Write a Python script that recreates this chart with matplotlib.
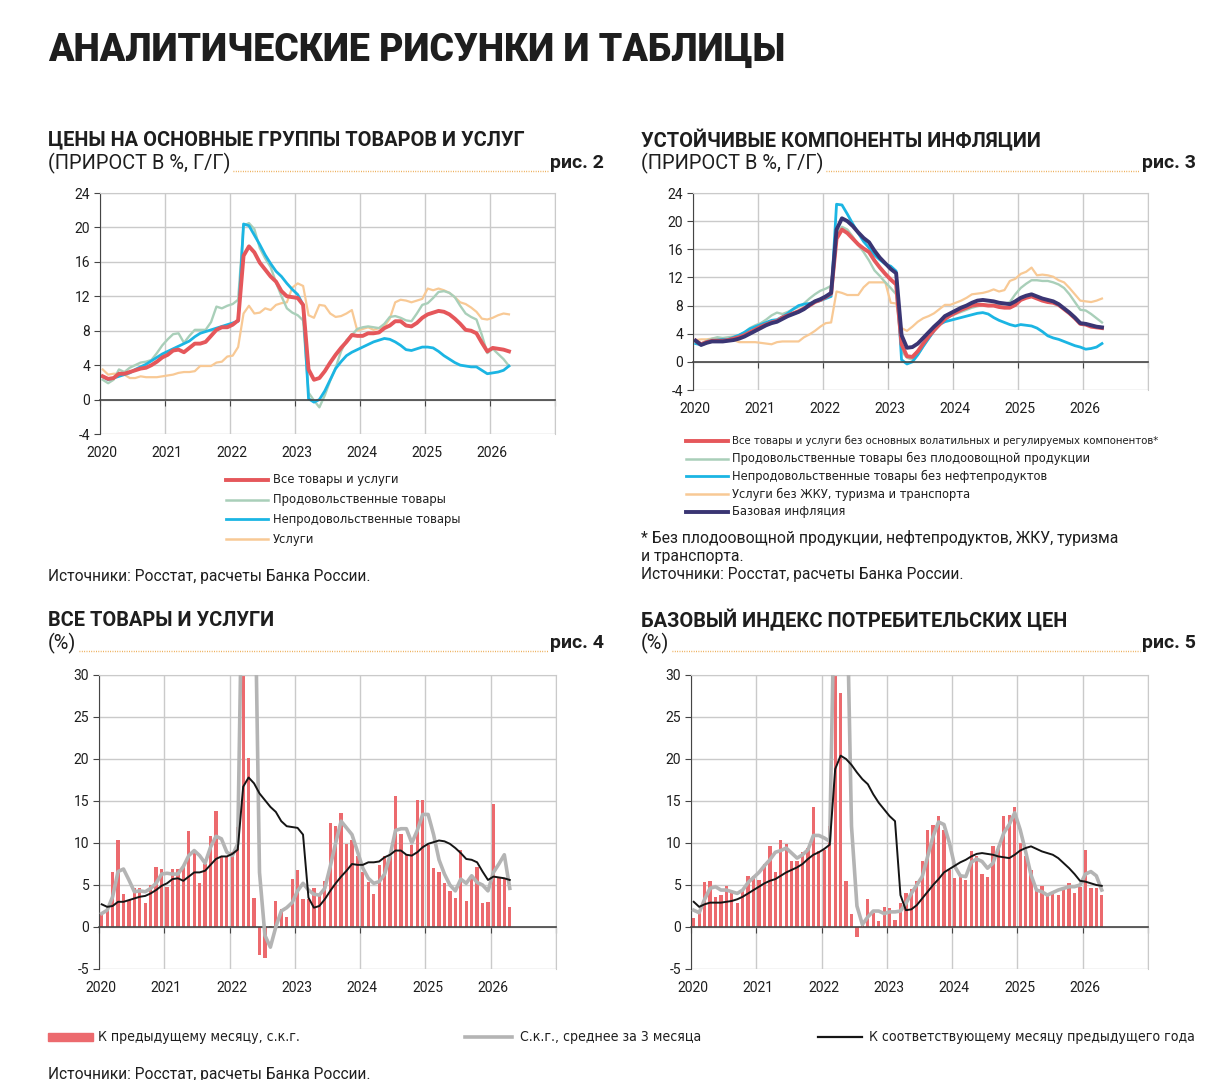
import matplotlib
matplotlib.use('Agg')
import matplotlib.pyplot as plt
from matplotlib.lines import Line2D
from matplotlib.patches import Rectangle
from matplotlib import font_manager
import numpy as np
import pandas as pd

# ---------- данные (помесячно, янв.2020 - апр.2026) ----------
dates = pd.date_range('2020-01-01', periods=76, freq='MS')
year_ticks = [2020, 2021, 2022, 2023, 2024, 2025, 2026]

# рис. 2, г/г
cpi_yoy = [2.7, 2.4, 2.5, 3.0, 3.0, 3.2, 3.4, 3.6, 3.7, 4.0, 4.4, 4.9,
           5.2, 5.7, 5.8, 5.5, 6.0, 6.5, 6.5, 6.7, 7.4, 8.1, 8.4, 8.4,
           8.7, 9.2, 16.7, 17.8, 17.1, 15.9, 15.1, 14.3, 13.7, 12.6, 12.0, 11.9,
           11.8, 11.0, 3.5, 2.3, 2.5, 3.3, 4.3, 5.2, 6.0, 6.7, 7.5, 7.4,
           7.4, 7.7, 7.7, 7.8, 8.3, 8.6, 9.1, 9.1, 8.6, 8.5, 8.9, 9.5,
           9.9, 10.1, 10.3, 10.2, 9.9, 9.4, 8.8, 8.1, 8.0, 7.7, 6.6, 5.6,
           6.0, 5.9, 5.8, 5.6]
food_yoy = [2.3, 1.9, 2.3, 3.5, 3.2, 3.7, 4.0, 4.3, 4.4, 4.6, 5.4, 6.3,
            7.0, 7.6, 7.7, 6.6, 7.4, 8.1, 8.1, 8.1, 9.0, 10.8, 10.6, 10.9,
            11.1, 11.6, 20.2, 20.5, 19.8, 17.6, 16.4, 15.4, 13.6, 12.0, 10.6, 10.1,
            9.8, 9.2, 0.8, -0.1, -0.9, 0.5, 2.2, 3.7, 5.6, 6.9, 7.5, 8.2,
            8.4, 8.5, 8.4, 8.3, 8.8, 9.6, 9.7, 9.5, 9.2, 9.1, 10.0, 11.0,
            11.2, 11.8, 12.5, 12.6, 12.4, 11.9, 10.9, 10.0, 9.6, 9.3, 7.5, 5.4,
            5.9, 5.3, 4.7, 3.9]
nonfood_yoy = [2.7, 2.3, 2.5, 2.7, 2.9, 3.1, 3.5, 3.8, 4.1, 4.5, 4.9, 5.3,
               5.6, 5.9, 6.2, 6.5, 6.8, 7.3, 7.7, 7.9, 8.1, 8.3, 8.5, 8.7,
               8.9, 9.1, 20.4, 20.2, 19.1, 18.0, 16.8, 15.8, 14.9, 14.3, 13.5, 12.8,
               12.2, 11.0, 0.1, -0.3, 0.0, 1.0, 2.3, 3.6, 4.4, 5.1, 5.5, 5.8,
               6.1, 6.4, 6.7, 6.9, 7.1, 7.0, 6.7, 6.3, 5.8, 5.7, 5.9, 6.1,
               6.1, 6.0, 5.6, 5.1, 4.7, 4.3, 4.0, 3.9, 3.8, 3.8, 3.4, 3.0,
               3.1, 3.2, 3.4, 3.9]
serv_yoy = [3.5, 2.9, 3.0, 3.0, 2.9, 2.5, 2.5, 2.7, 2.6, 2.6, 2.6, 2.7,
            2.8, 2.9, 3.1, 3.2, 3.2, 3.3, 3.9, 3.9, 3.9, 4.3, 4.4, 5.0,
            5.1, 6.1, 10.0, 10.9, 10.0, 10.1, 10.6, 10.4, 11.0, 11.2, 11.3, 13.0,
            13.5, 13.2, 9.8, 9.5, 11.0, 10.9, 10.0, 9.6, 9.7, 10.0, 10.4, 8.0,
            8.2, 8.4, 8.1, 8.3, 8.5, 9.4, 11.3, 11.6, 11.5, 11.3, 11.5, 11.7,
            12.9, 12.7, 12.9, 12.7, 12.4, 11.9, 11.3, 11.1, 10.7, 10.2, 9.4, 9.3,
            9.5, 9.8, 10.0, 9.9]

# рис. 3, г/г
sust_yoy = [3.0, 2.5, 2.8, 3.0, 3.0, 3.0, 3.1, 3.3, 3.5, 3.8, 4.2, 4.6,
            5.0, 5.3, 5.6, 5.8, 6.3, 6.6, 6.9, 7.2, 7.6, 8.0, 8.5, 8.8,
            9.2, 9.7, 17.5, 18.8, 18.3, 17.5, 16.7, 16.1, 15.6, 14.4, 13.4, 12.5,
            11.7, 11.0, 2.5, 0.8, 0.7, 1.5, 2.6, 3.6, 4.5, 5.3, 6.1, 6.6,
            7.0, 7.4, 7.7, 8.0, 8.1, 8.1, 8.0, 8.0, 7.8, 7.7, 7.7, 8.1,
            8.8, 9.1, 9.3, 9.0, 8.7, 8.5, 8.4, 8.1, 7.5, 6.9, 6.2, 5.4,
            5.3, 5.0, 4.9, 4.8]
food_ex_yoy = [3.0, 2.6, 3.0, 3.3, 3.5, 3.4, 3.5, 3.6, 3.8, 4.2, 4.8, 5.2,
               5.5, 6.0, 6.6, 7.0, 6.8, 7.1, 7.5, 7.8, 8.3, 9.0, 9.6, 10.1,
               10.4, 10.8, 18.2, 19.2, 18.8, 17.8, 16.6, 15.6, 14.4, 13.0, 12.2, 11.3,
               10.5, 9.6, 1.5, 0.6, 0.3, 1.0, 2.2, 3.4, 4.5, 5.4, 6.0, 6.5,
               6.8, 7.1, 7.4, 7.7, 7.9, 8.1, 8.1, 8.1, 8.1, 8.2, 8.5, 9.6,
               10.5, 11.1, 11.6, 11.6, 11.5, 11.5, 11.3, 11.0, 10.5, 9.6, 8.5, 7.4,
               7.3, 6.8, 6.2, 5.6]
nonfood_ex_yoy = [2.6, 2.4, 2.7, 3.0, 3.1, 3.2, 3.2, 3.5, 3.8, 4.2, 4.7, 5.0,
                  5.3, 5.6, 5.9, 6.0, 6.4, 6.9, 7.5, 8.0, 8.2, 8.3, 8.5, 8.7,
                  9.0, 9.3, 22.4, 22.3, 21.0, 19.6, 18.3, 17.1, 16.2, 15.2, 14.5, 13.9,
                  13.6, 12.9, 0.3, -0.3, 0.0, 1.0, 2.2, 3.3, 4.4, 5.3, 5.7, 5.9,
                  6.1, 6.3, 6.5, 6.7, 6.9, 7.0, 6.8, 6.3, 5.9, 5.6, 5.3, 5.1,
                  5.3, 5.2, 5.1, 4.8, 4.3, 3.7, 3.4, 3.2, 2.9, 2.6, 2.3, 2.1,
                  1.8, 1.9, 2.1, 2.6]
serv_ex_yoy = [3.1, 3.2, 3.2, 3.3, 3.4, 3.3, 3.3, 3.1, 2.8, 2.8, 2.8, 2.8,
               2.7, 2.6, 2.5, 2.8, 2.9, 2.9, 2.9, 2.9, 3.5, 3.9, 4.4, 5.0,
               5.5, 5.6, 10.0, 9.8, 9.5, 9.5, 9.5, 10.6, 11.3, 11.3, 11.3, 11.3,
               8.4, 8.3, 4.8, 4.4, 5.0, 5.7, 6.2, 6.5, 6.9, 7.5, 8.1, 8.1,
               8.4, 8.7, 9.1, 9.6, 9.7, 9.8, 10.0, 10.3, 10.0, 10.2, 11.5, 11.8,
               12.5, 12.8, 13.4, 12.3, 12.4, 12.3, 12.1, 11.6, 11.3, 10.5, 9.6, 8.7,
               8.6, 8.5, 8.7, 9.0]
core_yoy = [3.0, 2.4, 2.7, 2.9, 2.9, 2.9, 3.0, 3.1, 3.3, 3.6, 4.0, 4.4,
            4.8, 5.2, 5.5, 5.7, 6.1, 6.5, 6.8, 7.1, 7.5, 8.1, 8.6, 8.9,
            9.3, 9.8, 18.8, 20.4, 20.0, 19.3, 18.4, 17.6, 17.0, 15.8, 14.8, 14.0,
            13.2, 12.6, 3.8, 2.0, 2.1, 2.6, 3.4, 4.2, 5.0, 5.7, 6.5, 6.9,
            7.3, 7.7, 8.0, 8.4, 8.7, 8.8, 8.7, 8.6, 8.4, 8.3, 8.2, 8.6,
            9.1, 9.4, 9.6, 9.3, 9.0, 8.8, 8.6, 8.2, 7.6, 7.0, 6.3, 5.5,
            5.4, 5.2, 5.0, 4.9]

# рис. 4, м/м с.к.г. и среднее за 3 месяца
cpi_mom = [1.6, 2.0, 6.6, 10.3, 3.9, 3.2, 4.6, 4.6, 2.9, 5.0, 7.1, 6.9,
           4.8, 6.9, 6.9, 7.2, 11.4, 8.9, 5.2, 7.5, 10.8, 13.8, 8.3, 8.5,
           8.9, 11.9, 45.0, 20.1, 3.4, -3.3, -3.7, 0.1, 3.1, 2.2, 1.2, 5.7,
           6.8, 3.3, 3.3, 4.7, 3.9, 5.5, 12.4, 12.0, 13.6, 9.9, 10.3, 8.5,
           6.5, 5.4, 3.9, 7.4, 8.5, 8.5, 15.6, 11.1, 8.6, 9.8, 15.1, 15.1,
           9.8, 7.0, 6.5, 5.2, 4.3, 3.5, 9.2, 3.1, 5.8, 7.1, 2.8, 3.0,
           14.6, 5.9, 5.8, 2.4]
cpi_3m = [1.6, 2.0, 3.6, 6.6, 6.9, 5.6, 4.2, 4.3, 4.2, 4.6, 5.2, 6.3,
          6.4, 6.3, 6.3, 7.2, 8.5, 9.1, 8.5, 7.6, 9.5, 10.8, 10.5, 8.9,
          8.5, 9.9, 50.0, 55.0, 48.0, 6.5, -1.0, -2.4, 0.0, 1.9, 2.3, 2.9,
          4.3, 5.2, 4.4, 3.9, 3.8, 4.6, 7.2, 10.0, 12.6, 11.8, 11.0, 9.0,
          7.0, 5.8, 5.2, 5.4, 6.3, 8.5, 11.5, 11.7, 11.7, 10.0, 11.5, 13.4,
          13.4, 11.0, 8.0, 6.3, 5.0, 4.3, 5.7, 5.2, 6.1, 5.3, 5.0, 4.3,
          6.5, 7.5, 8.6, 4.6]

# рис. 5
core_mom = [1.1, 1.7, 5.3, 5.5, 3.6, 3.8, 4.9, 4.1, 2.9, 4.4, 6.1, 6.1,
            5.6, 7.5, 9.6, 6.6, 10.3, 9.9, 7.9, 7.8, 8.9, 9.4, 14.3, 9.0,
            9.2, 12.0, 40.0, 27.8, 5.5, 1.6, -1.2, 0.2, 3.3, 1.7, 0.7, 2.4,
            2.3, 0.8, 2.8, 4.1, 4.5, 5.5, 7.8, 11.5, 12.2, 13.2, 11.6, 6.8,
            5.8, 6.0, 5.6, 9.1, 8.4, 6.3, 6.0, 9.7, 9.7, 13.2, 13.3, 14.3,
            10.0, 8.5, 6.8, 4.4, 4.9, 3.7, 4.0, 3.8, 4.8, 5.2, 4.0, 4.8,
            9.2, 4.6, 4.6, 3.8]
core_3m = [2.0, 1.7, 3.3, 4.6, 4.8, 4.4, 4.4, 4.2, 4.0, 4.4, 5.3, 5.9,
           6.5, 7.3, 8.0, 8.9, 9.1, 9.4, 8.8, 8.2, 8.6, 9.2, 10.9, 10.9,
           10.6, 10.2, 45.0, 60.0, 45.0, 12.0, 2.5, 0.3, 1.2, 1.9, 1.9, 1.6,
           1.8, 1.8, 1.9, 2.8, 4.0, 5.0, 6.0, 8.4, 10.8, 12.5, 12.2, 10.0,
           7.2, 6.1, 6.0, 7.7, 8.1, 7.8, 7.0, 7.6, 9.4, 11.2, 12.2, 13.6,
           11.6, 9.0, 6.2, 4.4, 4.2, 3.8, 4.1, 4.4, 4.6, 4.8, 4.8, 5.0,
           6.3, 6.6, 6.1, 4.4]

labels2 = ['Все товары и услуги', 'Продовольственные товары',
           'Непродовольственные товары', 'Услуги']
labels3 = ['Все товары и услуги без основных волатильных и регулируемых компонентов*',
           'Продовольственные товары без плодоовощной продукции',
           'Непродовольственные товары без нефтепродуктов',
           'Услуги без ЖКУ, туризма и транспорта',
           'Базовая инфляция']
labels45 = ['К предыдущему месяцу, с.к.г.', 'С.к.г., среднее за 3 месяца',
            'К соответствующему месяцу предыдущего года']

# ---------- оформление ----------
W, H = 1231, 1080
RED = '#e5575b'
GREEN = '#a9cfb9'
BLUE = '#1bb5e3'
ORANGE = '#f8c995'
NAVY = '#3a3573'
BAR = '#ec6a6e'
GREY = '#b4b4b4'
BLACK = '#151515'
DOTS = '#eaa03c'
TXT = '#1e1e1e'
GRID = '#cacaca'
AX = '#454545'
MAIN = ['Roboto', 'DejaVu Sans']
plt.rcParams['axes.unicode_minus'] = False

# узкий шрифт для легенд: DejaVu Sans Condensed, если есть
cond = font_manager.FontProperties(family='DejaVu Sans', stretch='condensed')
if 'Condensed' in font_manager.findfont(cond):
    NARROW = dict(family='DejaVu Sans', fontstretch='condensed')
    nscale = 1.0
else:
    NARROW = dict(family=MAIN)
    nscale = 0.93

x = dates.year + (dates.month - 0.5) / 12

fig = plt.figure(figsize=(W / 100, H / 100), dpi=100)


def fx(px):
    return px / W


def fy(py):
    return 1 - py / H


def make_ax(x0, x1, y0, y1, ymin, ymax, step):
    ax = fig.add_axes([fx(x0), fy(y1), fx(x1 - x0), (y1 - y0) / H])
    ax.set_xlim(2020, 2027)
    ax.set_ylim(ymin, ymax)
    ax.set_yticks(np.arange(ymin, ymax + 1, step))
    ax.set_xticks(range(2020, 2028))
    ax.grid(True, color=GRID, lw=1.0)
    ax.set_axisbelow(True)
    for s in ['top', 'right']:
        ax.spines[s].set_color(GRID)
    ax.spines['bottom'].set_position(('data', 0))
    ax.spines['bottom'].set_color(AX)
    ax.spines['bottom'].set_linewidth(1.2)
    ax.spines['left'].set_color(AX)
    ax.tick_params(axis='x', direction='out', length=4, color=AX, labelbottom=False)
    ax.tick_params(axis='y', direction='out', length=4, color=AX, pad=3,
                   labelsize=10, labelcolor=TXT)
    for lab in ax.get_yticklabels():
        lab.set_family(MAIN)
    for yr in year_ticks:
        ax.annotate(str(yr), (yr, 0), xycoords=('data', 'axes fraction'),
                    xytext=(1.5, -13.5), textcoords='offset points',
                    ha='center', va='center', fontsize=10, color=TXT, family=MAIN)
    return ax


def header(xl, xr, y, title, sub, fig_no):
    fig.text(fx(xl), fy(y), title, fontsize=14.4, fontweight='bold', color=TXT,
             family=MAIN, va='center', ha='left')
    t = fig.text(fx(xl), fy(y + 23), sub, fontsize=14.4, color=TXT,
                 family=MAIN, va='center', ha='left')
    r = fig.text(fx(xr), fy(y + 23), fig_no, fontsize=14, fontweight='bold',
                 color=TXT, family=MAIN, va='center', ha='right')
    return t, r, y + 31


# ---------- рис. 2 ----------
ax2 = make_ax(100, 555, 193, 434, -4, 24, 4)
ax2.plot(x, serv_yoy, color=ORANGE, lw=1.6)
ax2.plot(x, food_yoy, color=GREEN, lw=1.7)
ax2.plot(x, nonfood_yoy, color=BLUE, lw=2.0)
ax2.plot(x, cpi_yoy, color=RED, lw=2.8)

# ---------- рис. 3 ----------
ax3 = make_ax(693, 1148, 193, 390, -4, 24, 4)
ax3.plot(x, serv_ex_yoy, color=ORANGE, lw=1.6)
ax3.plot(x, food_ex_yoy, color=GREEN, lw=1.7)
ax3.plot(x, nonfood_ex_yoy, color=BLUE, lw=2.0)
ax3.plot(x, sust_yoy, color=RED, lw=2.8)
ax3.plot(x, core_yoy, color=NAVY, lw=2.8)

# ---------- рис. 4 и 5 ----------
ax4 = make_ax(99, 556, 675, 969, -5, 30, 5)
ax4.bar(x, cpi_mom, width=0.6 / 12, color=BAR, zorder=2)
ax4.plot(x, cpi_3m, color=GREY, lw=2.6, zorder=3)
ax4.plot(x, cpi_yoy, color=BLACK, lw=1.4, zorder=4)

ax5 = make_ax(691, 1148, 675, 969, -5, 30, 5)
ax5.bar(x, core_mom, width=0.6 / 12, color=BAR, zorder=2)
ax5.plot(x, core_3m, color=GREY, lw=2.6, zorder=3)
ax5.plot(x, core_yoy, color=BLACK, lw=1.4, zorder=4)

# ---------- тексты ----------
fig.text(fx(48), fy(50), 'АНАЛИТИЧЕСКИЕ РИСУНКИ И ТАБЛИЦЫ', fontsize=27,
         fontweight='heavy', color=TXT, family=MAIN, va='center', ha='left')

heads = [header(48, 604, 140, 'ЦЕНЫ НА ОСНОВНЫЕ ГРУППЫ ТОВАРОВ И УСЛУГ', '(ПРИРОСТ В %, Г/Г)', 'рис. 2'),
         header(641, 1196, 140, 'УСТОЙЧИВЫЕ КОМПОНЕНТЫ ИНФЛЯЦИИ', '(ПРИРОСТ В %, Г/Г)', 'рис. 3'),
         header(48, 604, 620, 'ВСЕ ТОВАРЫ И УСЛУГИ', '(%)', 'рис. 4'),
         header(641, 1196, 620, 'БАЗОВЫЙ ИНДЕКС ПОТРЕБИТЕЛЬСКИХ ЦЕН', '(%)', 'рис. 5')]

fig.canvas.draw()
rend = fig.canvas.get_renderer()
for t, r, ydot in heads:
    a = t.get_window_extent(rend)
    b = r.get_window_extent(rend)
    fig.add_artist(Line2D([a.x1 / W + 0.002, b.x0 / W - 0.002], [fy(ydot), fy(ydot)],
                          transform=fig.transFigure, color=DOTS, lw=1.0,
                          linestyle=(0, (0.6, 1.1))))

# легенда рис. 2
for i, (lab, col, lw) in enumerate(zip(labels2, [RED, GREEN, BLUE, ORANGE], [2.8, 1.8, 2.0, 1.8])):
    yy = 480 + i * 19.7
    fig.add_artist(Line2D([fx(226), fx(268)], [fy(yy), fy(yy)], transform=fig.transFigure,
                          color=col, lw=lw))
    fig.text(fx(273), fy(yy), lab, fontsize=9.3 * nscale, color=TXT,
             va='center', ha='left', **NARROW)

# легенда рис. 3
for i, (lab, col, lw) in enumerate(zip(labels3, [RED, GREEN, BLUE, ORANGE, NAVY],
                                       [2.8, 1.8, 2.0, 1.8, 2.8])):
    yy = 441 + i * 17.7
    fig.add_artist(Line2D([fx(686), fx(728)], [fy(yy), fy(yy)], transform=fig.transFigure,
                          color=col, lw=lw))
    fs = 8.1 if i == 0 else 9.2
    fig.text(fx(732), fy(yy), lab, fontsize=fs * nscale, color=TXT,
             va='center', ha='left', **NARROW)

src = 'Источники: Росстат, расчеты Банка России.'
fig.text(fx(48), fy(576), src, fontsize=11.2, color=TXT, family=MAIN, va='center')
fig.text(fx(641), fy(538), '* Без плодоовощной продукции, нефтепродуктов, ЖКУ, туризма',
         fontsize=11.3, color=TXT, family=MAIN, va='center')
fig.text(fx(641), fy(556), 'и транспорта.', fontsize=11.3, color=TXT, family=MAIN, va='center')
fig.text(fx(641), fy(575), src, fontsize=11.2, color=TXT, family=MAIN, va='center')

# общая легенда рис. 4-5
fig.add_artist(Rectangle((fx(48), fy(1041)), fx(45), 8 / H, transform=fig.transFigure,
                         color=BAR))
fig.text(fx(98), fy(1037), labels45[0], fontsize=10.1 * nscale, color=TXT, va='center', **NARROW)
fig.add_artist(Line2D([fx(465), fx(512)], [fy(1037), fy(1037)], transform=fig.transFigure,
                      color=GREY, lw=2.6))
fig.text(fx(520), fy(1037), labels45[1], fontsize=10.1 * nscale, color=TXT, va='center', **NARROW)
fig.add_artist(Line2D([fx(818), fx(862)], [fy(1037), fy(1037)], transform=fig.transFigure,
                      color=BLACK, lw=1.6))
fig.text(fx(869), fy(1037), labels45[2], fontsize=10.1 * nscale, color=TXT, va='center', **NARROW)
fig.text(fx(48), fy(1074), src, fontsize=11.2, color=TXT, family=MAIN, va='center')

fig.savefig('out.png', dpi=100)
